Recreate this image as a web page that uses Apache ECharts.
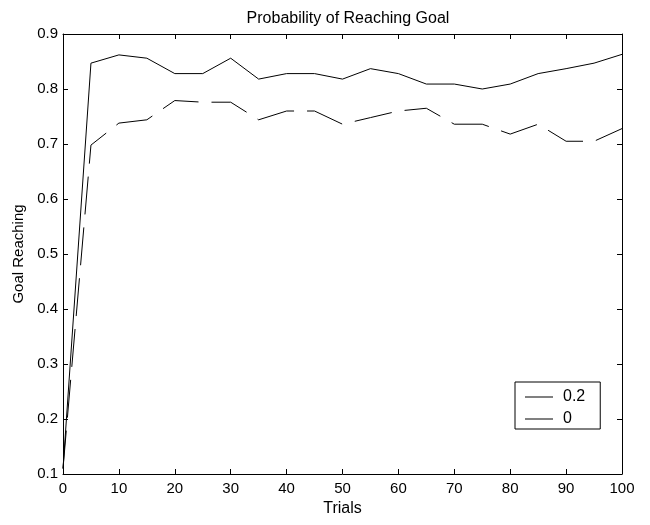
<!DOCTYPE html>
<html>
<head>
<meta charset="utf-8">
<script src="https://cdn.jsdelivr.net/npm/echarts@6/dist/echarts.min.js"></script>
<style>html,body{margin:0;padding:0;background:#fff}#c{width:650px;height:525px}</style>
</head>
<body>
<div id="c"></div>
<script>
const trials = [0,5,10,15,20,25,30,35,40,45,50,55,60,65,70,75,80,85,90,95,100];
const series02 = [0.11,0.847,0.862,0.856,0.828,0.828,0.856,0.818,0.828,0.828,0.818,0.837,0.828,0.809,0.809,0.800,0.809,0.828,0.837,0.847,0.863];
const series0 = [0.11,0.698,0.738,0.744,0.779,0.776,0.776,0.744,0.760,0.760,0.736,0.748,0.760,0.765,0.736,0.736,0.718,0.736,0.705,0.705,0.728];
const seriesNames = ['0.2','0'];
const xTicks = [0,10,20,30,40,50,60,70,80,90,100];
const yTicks = [0.1,0.2,0.3,0.4,0.5,0.6,0.7,0.8,0.9];

const font = 'Liberation Sans, Arial, sans-serif';
const chart = echarts.init(document.getElementById('c'));
const axisBase = {
  axisLine: {show: true, onZero: false, lineStyle: {color: '#000', width: 1}},
  axisTick: {show: true, inside: true, length: 5, lineStyle: {color: '#000'}},
  splitLine: {show: false}
};
const legendIcon = 'path://M0,0L28,0L28,1L0,1Z';
chart.setOption({
  animation: false,
  backgroundColor: '#fff',
  title: {text: 'Probability of Reaching Goal', left: 343, textAlign: 'center', top: 6,
    textStyle: {fontFamily: font, fontSize: 16, fontWeight: 'normal', color: '#000'}},
  grid: {left: 63, right: 28, top: 34, bottom: 51},
  legend: {
    left: 515, top: 382, orient: 'vertical', itemWidth: 28, itemHeight: 1, itemGap: 4,
    padding: [6, 15, 1, 10], borderColor: '#000', borderWidth: 1, backgroundColor: '#fff',
    textStyle: {fontFamily: font, fontSize: 16, color: '#000', padding: [0, 0, 0, 5], lineHeight: 18},
    itemStyle: {color: '#000'},
    data: [
      {name: seriesNames[0], icon: legendIcon},
      {name: seriesNames[1], icon: legendIcon}
    ]
  },
  xAxis: [
    Object.assign({type: 'value', min: 0, max: 100, interval: 10, position: 'bottom',
      name: 'Trials', nameLocation: 'middle', nameGap: 27,
      nameTextStyle: {fontFamily: font, fontSize: 16, color: '#000'},
      axisLabel: {fontFamily: font, fontSize: 15, color: '#000', margin: 7}}, axisBase),
    Object.assign({type: 'value', min: 0, max: 100, interval: 10, position: 'top',
      axisLabel: {show: false}}, axisBase)
  ],
  yAxis: [
    Object.assign({type: 'value', min: 0.1, max: 0.9, interval: 0.1, position: 'left',
      name: 'Goal Reaching', nameLocation: 'middle', nameGap: 37, nameRotate: 90,
      nameTextStyle: {fontFamily: font, fontSize: 15, color: '#000'},
      axisLabel: {fontFamily: font, fontSize: 15, color: '#000', margin: 5,
        formatter: v => v.toFixed(1)}}, axisBase),
    Object.assign({type: 'value', min: 0.1, max: 0.9, interval: 0.1, position: 'right',
      axisLabel: {show: false}}, axisBase)
  ],
  series: [
    {name: seriesNames[0], type: 'line', showSymbol: false, symbol: 'none',
      data: trials.map((t, i) => [t, series02[i]]),
      lineStyle: {color: '#000', width: 1, type: 'solid'}, itemStyle: {color: '#000'}},
    {name: seriesNames[1], type: 'line', showSymbol: false, symbol: 'none',
      data: trials.map((t, i) => [t, series0[i]]),
      lineStyle: {color: '#000', width: 1, type: [38, 13]}, itemStyle: {color: '#000'}}
  ]
});
</script>
</body>
</html>
